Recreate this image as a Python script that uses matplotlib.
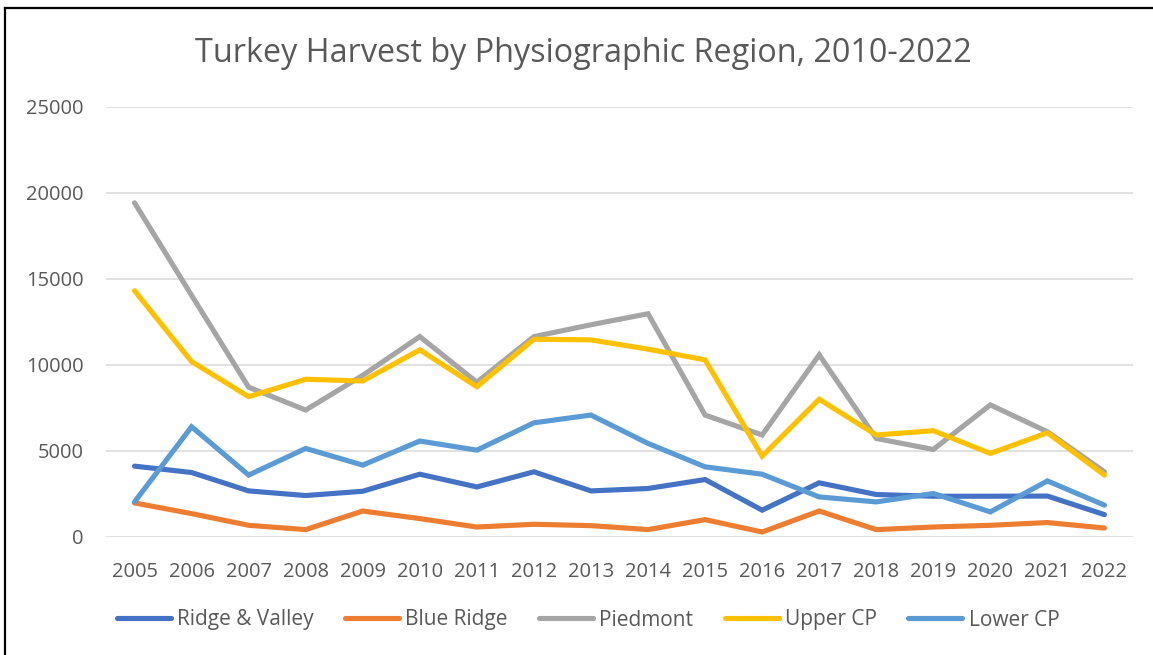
import matplotlib
matplotlib.use("Agg")
import matplotlib.pyplot as plt
from matplotlib.lines import Line2D

years = list(range(2005, 2023))
ridge_valley = [4120, 3750, 2680, 2410, 2660, 3650, 2910, 3790, 2680, 2820, 3340, 1560, 3150, 2470, 2370, 2370, 2380, 1300]
blue_ridge = [1980, 1360, 680, 430, 1510, 1070, 580, 740, 660, 430, 1010, 290, 1510, 430, 580, 680, 840, 520]
piedmont = [19430, 14050, 8710, 7380, 9400, 11650, 9000, 11650, 12340, 12980, 7090, 5930, 10590, 5730, 5090, 7680, 6120, 3790]
upper_cp = [14320, 10200, 8160, 9170, 9070, 10880, 8740, 11500, 11460, 10920, 10300, 4700, 8010, 5930, 6180, 4860, 6060, 3600]
lower_cp = [2040, 6410, 3600, 5150, 4180, 5580, 5050, 6640, 7090, 5440, 4080, 3650, 2330, 2040, 2530, 1460, 3260, 1850]

series = [
    ("Ridge & Valley", ridge_valley, "#4472C4"),
    ("Blue Ridge", blue_ridge, "#ED7D31"),
    ("Piedmont", piedmont, "#A5A5A5"),
    ("Upper CP", upper_cp, "#FFC000"),
    ("Lower CP", lower_cp, "#5B9BD5"),
]

plt.rcParams['font.family'] = ['Open Sans', 'DejaVu Sans']
txt = "#595959"

fig = plt.figure(figsize=(11.53, 6.55), dpi=100)
ax = fig.add_axes([106/1153, 1 - 537/655, 1027/1153, 430/655])

x = list(range(len(years)))
for name, vals, col in series:
    ax.plot(x, vals, color=col, lw=3.7, label=name, solid_capstyle='round', solid_joinstyle='miter')

ax.set_xlim(-0.5, len(years) - 0.5)
ax.set_ylim(0, 25000)
ax.set_yticks(range(0, 25001, 5000))
ax.set_xticks(x)
ax.set_xticklabels([str(y) for y in years])
ax.grid(axis='y', color='#D9D9D9', lw=1.1)
ax.set_axisbelow(True)
for s in ax.spines.values():
    s.set_visible(False)
ax.tick_params(length=0, labelsize=14.5, colors=txt)
ax.tick_params(axis='y', pad=16)
ax.tick_params(axis='x', pad=18)

fig.text(583/1153, 1 - 54/655, "Turkey Harvest by Physiographic Region, 2010-2022",
         ha='center', va='center', fontsize=23.3, color=txt)

fig.legend(loc='center', bbox_to_anchor=(588/1153, 1 - 620/655), ncol=5, frameon=False,
           fontsize=15, labelcolor=txt, handlelength=2.6, handletextpad=0.3, columnspacing=1.5)

# chart frame border (top and left edges visible)
fig.add_artist(Line2D([5/1153, 1], [1 - 8/655, 1 - 8/655], color='black', lw=1.6, transform=fig.transFigure))
fig.add_artist(Line2D([5/1153, 5/1153], [0, 1 - 8/655], color='black', lw=1.6, transform=fig.transFigure))

fig.savefig("out.png", dpi=100)
